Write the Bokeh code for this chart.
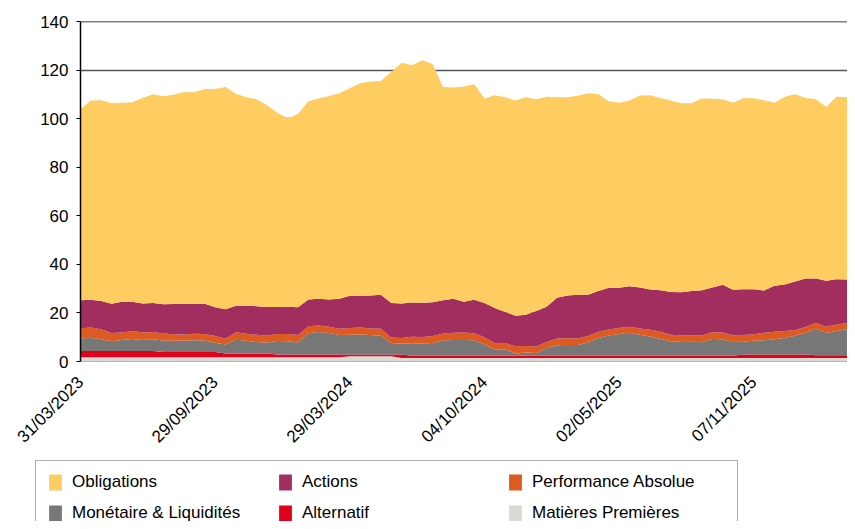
from bokeh.plotting import figure
from bokeh.layouts import column
from bokeh.models import ColumnDataSource, Range1d, Legend, LegendItem, Span, FixedTicker
from bokeh.embed import file_html
from bokeh.resources import INLINE
import math

# ---------------- data ----------------
tick_index = [0, 13, 26, 39, 52, 65]
tick_labels = ["31/03/2023", "29/09/2023", "29/03/2024", "04/10/2024", "02/05/2025", "07/11/2025"]

# legend rows (read left to right)
legend_rows = [["Obligations", "Actions", "Performance Absolue"],
               ["Monétaire & Liquidités", "Alternatif", "Matières Premières"]]

obligations = [78.8, 82.1, 82.7, 82.5, 81.9, 82.2, 84.6, 85.9, 85.6, 86.1,
               87.2, 87.1, 88.4, 89.9, 91.5, 87.2, 85.8, 85.2, 83.1, 80.0,
               77.7, 79.6, 81.7, 82.5, 83.8, 84.7, 85.4, 87.5, 88.1, 88.0,
               95.1, 99.1, 97.7, 99.8, 98.1, 87.8, 87.0, 88.6, 88.8, 84.2,
               87.6, 88.4, 88.7, 89.5, 87.2, 86.5, 82.6, 81.6, 81.9, 83.0,
               81.0, 76.8, 76.1, 76.5, 79.0, 80.0, 79.2, 78.9, 77.8, 77.3,
               79.0, 77.7, 76.4, 77.0, 78.7, 78.7, 78.4, 75.3, 77.3, 77.1,
               74.3, 73.8, 71.6, 75.1, 75.0, 72.4]
actions = [11.5, 11.4, 11.6, 12.1, 12.7, 12.0, 12.0, 12.0, 12.1, 12.5,
           12.7, 12.4, 12.5, 11.8, 12.1, 11.0, 11.6, 11.8, 11.7, 11.1,
           11.2, 11.4, 11.0, 11.0, 11.2, 12.3, 13.3, 13.1, 13.6, 14.0,
           14.2, 14.2, 14.1, 14.1, 13.9, 13.7, 14.0, 12.7, 13.8, 14.1,
           14.5, 12.8, 12.5, 12.9, 14.6, 14.5, 16.7, 17.6, 18.0, 17.0,
           16.7, 17.2, 16.6, 16.7, 16.9, 16.5, 17.1, 17.6, 17.7, 18.2,
           18.6, 18.5, 19.7, 18.7, 18.8, 18.5, 17.4, 18.9, 19.1, 19.9,
           20.0, 18.2, 18.9, 18.7, 17.9, 16.8]
performance_absolue = [4.2, 4.2, 4.1, 3.4, 3.0, 3.3, 3.0, 2.9, 2.9, 2.7,
                       2.5, 2.6, 2.7, 2.8, 2.4, 3.0, 2.9, 3.0, 3.0, 2.9,
                       3.0, 3.1, 2.9, 2.7, 2.6, 2.6, 2.8, 2.9, 2.7, 2.9,
                       2.3, 2.4, 2.7, 2.7, 2.9, 2.9, 2.9, 3.0, 2.9, 3.0,
                       2.6, 2.6, 3.0, 2.7, 2.7, 2.4, 2.8, 2.8, 2.7, 2.7,
                       2.6, 2.5, 2.5, 2.5, 2.6, 2.8, 2.9, 2.7, 2.8, 2.7,
                       2.8, 2.7, 2.7, 2.8, 2.8, 2.7, 3.0, 3.1, 2.9, 2.4,
                       2.4, 2.5, 2.5, 2.6, 2.6, 2.6]
monetaire = [5.2, 5.5, 4.9, 4.0, 4.6, 5.0, 4.6, 4.9, 4.7, 4.6,
             4.7, 4.9, 4.7, 3.8, 3.7, 5.7, 5.2, 4.7, 4.4, 5.5,
             5.4, 4.9, 8.7, 9.2, 8.8, 8.0, 8.1, 8.2, 8.0, 7.7,
             4.7, 4.4, 5.1, 5.0, 5.2, 6.2, 6.5, 6.5, 6.3, 4.6,
             2.5, 2.6, 0.9, 1.3, 1.1, 3.2, 4.3, 4.4, 4.4, 5.4,
             7.3, 8.3, 8.9, 9.4, 8.6, 7.9, 6.9, 5.9, 5.6, 5.7,
             5.5, 6.9, 6.8, 5.6, 5.2, 5.6, 5.9, 6.3, 6.8, 7.7,
             8.9, 10.9, 9.2, 10.0, 10.7, 14.0]
alternatif = [2.6, 2.6, 2.6, 2.6, 2.6, 2.6, 2.6, 2.6, 2.2, 2.2,
              2.2, 2.2, 2.2, 2.2, 1.6, 1.6, 1.6, 1.6, 1.6, 1.2,
              1.2, 1.2, 1.2, 1.2, 1.2, 1.2, 0.7, 0.7, 0.7, 0.7,
              0.7, 1.5, 1.0, 1.0, 1.0, 1.0, 1.0, 1.0, 1.0, 1.0,
              1.0, 1.0, 1.0, 1.0, 1.0, 1.0, 1.0, 1.0, 1.0, 1.0,
              1.0, 1.0, 1.0, 1.0, 1.0, 1.0, 1.0, 1.0, 1.0, 1.0,
              1.0, 1.0, 1.0, 1.0, 1.5, 1.5, 1.5, 1.5, 1.5, 1.5,
              1.5, 1.2, 1.2, 1.2, 1.2, 1.2]
matieres_premieres = [1.7, 1.7, 1.7, 1.7, 1.7, 1.7, 1.7, 1.7, 1.7, 1.7,
                      1.7, 1.7, 1.7, 1.7, 1.7, 1.7, 1.7, 1.7, 1.7, 1.7,
                      1.7, 1.7, 1.7, 1.7, 1.7, 1.7, 2.2, 2.2, 2.2, 2.2,
                      2.2, 1.4, 1.4, 1.4, 1.4, 1.4, 1.4, 1.4, 1.4, 1.4,
                      1.4, 1.4, 1.4, 1.4, 1.4, 1.4, 1.4, 1.4, 1.4, 1.4,
                      1.4, 1.4, 1.4, 1.4, 1.4, 1.4, 1.4, 1.4, 1.4, 1.4,
                      1.4, 1.4, 1.4, 1.4, 1.4, 1.4, 1.4, 1.4, 1.4, 1.4,
                      1.4, 1.4, 1.4, 1.4, 1.4, 1.4]

colors = {
    "Obligations": "#FECD61",
    "Actions": "#A22D5F",
    "Performance Absolue": "#DD5A21",
    "Monétaire & Liquidités": "#777777",
    "Alternatif": "#E2001A",
    "Matières Premières": "#D9D9D6",
}

x = list(range(len(obligations)))
source = ColumnDataSource(dict(
    x=x,
    mp=matieres_premieres,
    alt=alternatif,
    mon=monetaire,
    pa=performance_absolue,
    act=actions,
    obl=obligations,
))

FONT = "Liberation Sans"
stack_keys = ["mp", "alt", "mon", "pa", "act", "obl"]
stack_names = ["Matières Premières", "Alternatif", "Monétaire & Liquidités",
               "Performance Absolue", "Actions", "Obligations"]

# ---------------- main chart ----------------
p = figure(width=847, height=456, output_backend="svg", toolbar_location=None,
           x_range=Range1d(0, 74.05), y_range=Range1d(0, 140),
           min_border_left=80, min_border_right=0, min_border_top=21,
           min_border_bottom=90)
p.outline_line_color = None
p.background_fill_color = "white"
p.frame_align = False

p.varea_stack(stackers=stack_keys, x="x", source=source,
              color=[colors[n] for n in stack_names])

p.xgrid.grid_line_color = None
p.ygrid.ticker = FixedTicker(ticks=[0, 20, 40, 60, 80, 100, 120])
p.ygrid.grid_line_color = "#555555"
p.ygrid.grid_line_width = 1.5
p.add_layout(Span(location=140, dimension="width", line_color="black", line_width=1.5))

p.yaxis.ticker = FixedTicker(ticks=[0, 20, 40, 60, 80, 100, 120, 140])
p.yaxis.axis_line_color = "black"
p.yaxis.axis_line_width = 1.5
p.yaxis.major_tick_in = 0
p.yaxis.major_tick_out = 4
p.yaxis.minor_tick_line_color = None
p.yaxis.major_label_text_font = FONT
p.yaxis.major_label_text_font_size = "17px"
p.yaxis.major_label_text_color = "black"
p.yaxis.major_label_standoff = 8

p.xaxis.ticker = FixedTicker(ticks=tick_index)
p.xaxis.major_label_overrides = {i: l for i, l in zip(tick_index, tick_labels)}
p.xaxis.major_label_orientation = math.pi / 4
p.xaxis.major_label_text_font = FONT
p.xaxis.major_label_text_font_size = "17px"
p.xaxis.major_label_text_color = "black"
p.xaxis.axis_line_color = "#E3A3A3"
p.xaxis.axis_line_width = 1
p.xaxis.major_tick_line_color = None
p.xaxis.minor_tick_line_color = None
p.xaxis.major_label_standoff = 12

# ---------------- legend panel ----------------
lg = figure(width=847, height=65, output_backend="svg", toolbar_location=None,
            x_range=Range1d(-200, -199), y_range=Range1d(0, 1),
            x_axis_location=None, y_axis_location=None,
            min_border=0)
lg.outline_line_color = None
lg.xgrid.grid_line_color = None
lg.ygrid.grid_line_color = None
lg.frame_align = False
lrs = lg.varea_stack(stackers=stack_keys, x="x", source=source,
                     color=[colors[n] for n in stack_names])
rmap = dict(zip(stack_names, lrs))
# the legend grid fills column by column, so interleave the rows
ordered = [name for col in zip(*legend_rows) for name in col]
items = [LegendItem(label=n, renderers=[rmap[n]]) for n in ordered]
legend = Legend(items=items, ncols=3, location=(35, -14),
                glyph_width=16, glyph_height=20, label_standoff=9,
                spacing=11, padding=11, margin=0,
                label_text_font=FONT, label_text_font_size="17px",
                label_text_color="black", label_height=20, label_width=194,
                border_line_color="#555555", border_line_width=1.5,
                background_fill_color="white", background_fill_alpha=1)
lg.add_layout(legend, "center")

layout = column(p, lg, spacing=0)
open("out.html", "w").write(file_html(layout, INLINE))
